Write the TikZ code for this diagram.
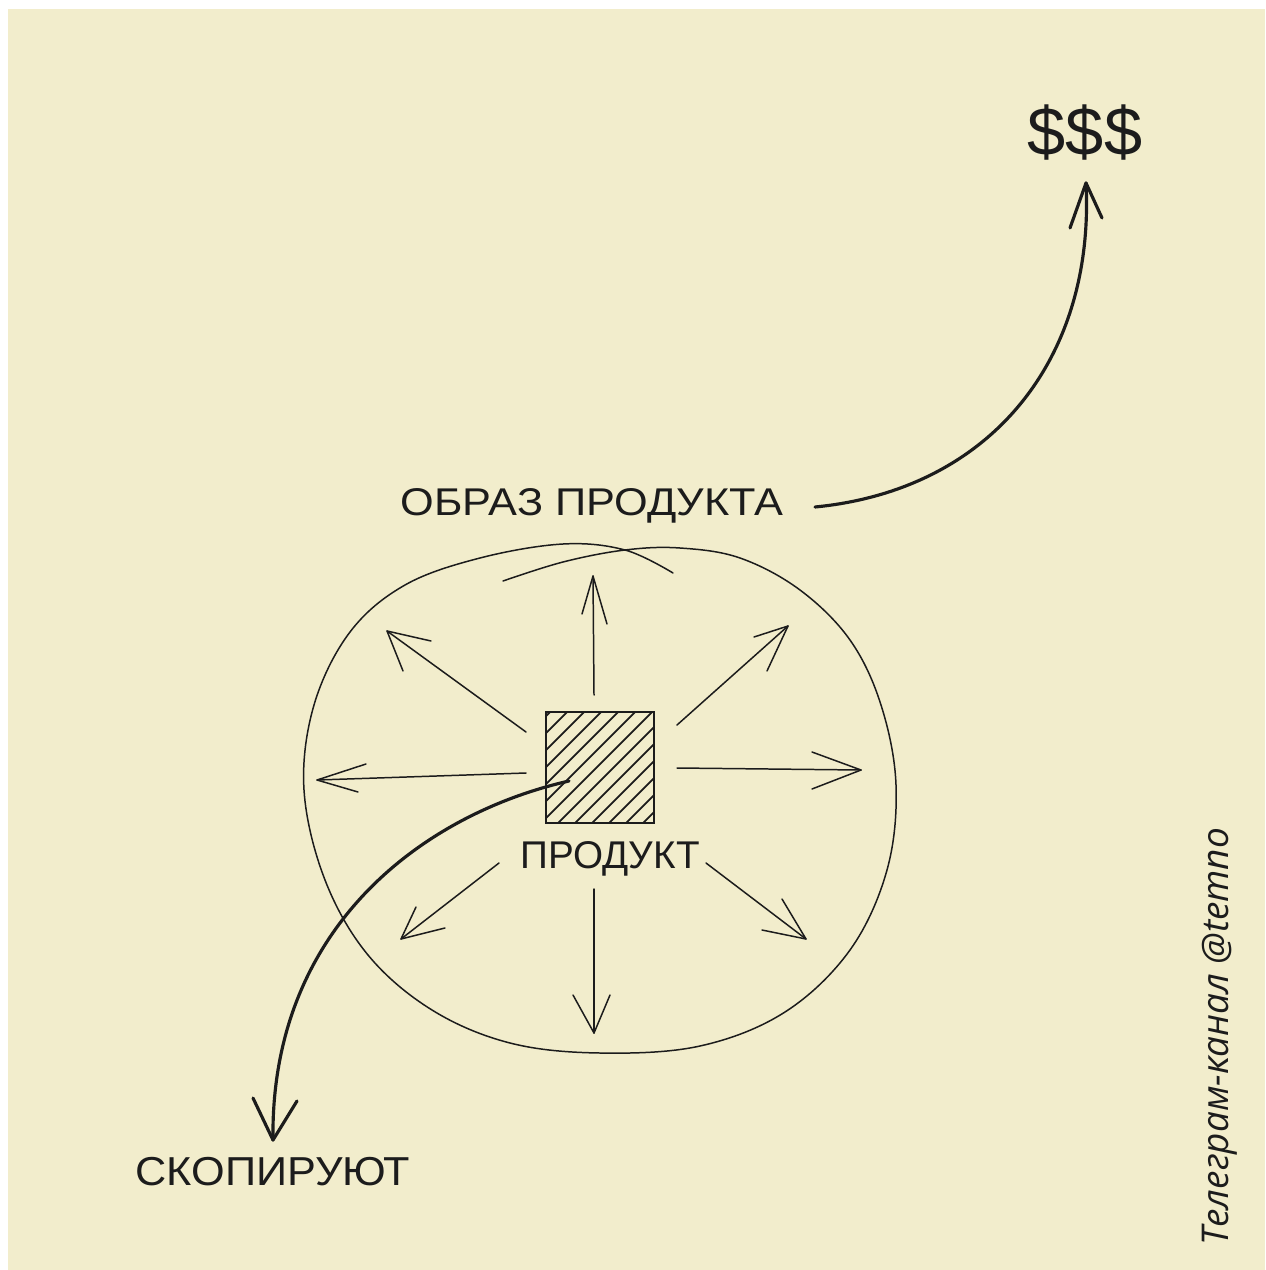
\documentclass[tikz,border=0pt]{standalone}
\usepackage{fontspec}
\setmainfont{Liberation Sans}
\newfontfamily\tgfont{Open Sans}
\definecolor{bg}{HTML}{F2EDCC}
\definecolor{ink}{HTML}{1C1C1C}
\begin{document}
\begin{tikzpicture}[x=0.02cm,y=-0.02cm,
  thinink/.style={draw=ink,line width=0.85pt,line cap=round,line join=round},
  thickink/.style={draw=ink,line width=1.8pt,line cap=round,line join=round},
  hand/.style={text=ink,inner sep=0pt,font=\fontsize{22pt}{24pt}\selectfont}]
\useasboundingbox (0,0) rectangle (1265,1270);
\fill[white] (0,0) rectangle (1265,1270);
\fill[bg] (8,9) rectangle (1265,1270);

% outer hand-drawn ellipse (ends overlap at the top)
\draw[thinink] plot[smooth, tension=0.6] coordinates {
 (503,581) (563,562) (625,550) (680,548) (740,558) (800,590) (850,640)
 (881,705) (896,785) (887,870) (850,950) (785,1012) (700,1046) (600,1053)
 (510,1043) (432,1010) (368,955) (325,880) (304,790) (314,705) (350,632)
 (405,585) (480,558) (563,544) (625,550) (673,573)};

% product square
\node[draw=ink,line width=0.85pt,minimum width=2.16cm,minimum height=2.22cm,inner sep=0pt] (square) at (600,767.5) {};
\begin{scope}
  \clip (square.south west) rectangle (square.north east);
  \foreach \c in {1262,1279,...,1475} {
    \draw[thinink,line width=1pt] (\c-850,850) -- (\c-690,690);
  }
\end{scope}

% labels
\node[hand,xscale=1.12] (obraz) at (592,506) {ОБРАЗ ПРОДУКТА};
\node[hand] (produkt) at (610,859) {ПРОДУКТ};
\node[hand,font=\fontsize{23pt}{25pt}\selectfont,xscale=1.07] (skop) at (273,1172) {СКОПИРУЮТ};
\node[hand,font=\fontsize{39pt}{42pt}\selectfont] (money) at (1085,133) {\$\$\$};
\node[text=ink,rotate=90,inner sep=0pt,font=\tgfont\itshape\fontsize{21pt}{24pt}\selectfont] (tg) at (1220,1037) {Телеграм-канал @temno};

% radiating arrows
\foreach \sx/\sy/\tx/\ty/\ax/\ay/\bx/\by in {
  594/695/593/576/582/614/607/624,
  526/732/387/631/431/641/403/671,
  677/725/788/626/754/637/767/671,
  526/773/317/780/366/764/358/792,
  677/768/861/770/812/752/812/789,
  499/863/401/939/416/907/445/928,
  594/889/594/1033/573/995/610/995,
  706/863/806/939/782/899/762/930} {
  \coordinate (s) at (\sx,\sy);
  \coordinate (t) at (\tx,\ty);
  \draw[thinink] (s) -- (t);
  \draw[thinink] (\ax,\ay) -- (t) -- (\bx,\by);
}

% thick curved arrow to "$$$"
\coordinate (obrazend) at (815,507);
\coordinate (moneytip) at (1086,183);
\draw[thickink] (obrazend) .. controls (990,490) and (1095,360) .. (moneytip);
\draw[thickink] (1070,228) -- (moneytip) -- (1102,218);

% thick curved arrow from product to "скопируют"
\coordinate (prodin) at (569,781);
\coordinate (skoptip) at (273,1140);
\draw[thickink] (prodin) .. controls (420,815) and (270,930) .. (skoptip);
\draw[thickink] (253,1098) -- (skoptip) -- (297,1101);
\end{tikzpicture}
\end{document}
